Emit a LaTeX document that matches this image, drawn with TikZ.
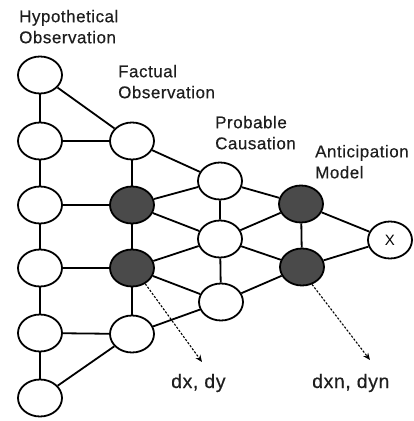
\documentclass[tikz,border=0pt]{standalone}
\usepackage{fontspec}
\setmainfont{Liberation Sans}
\newfontfamily\lblfont[LetterSpace=3,FakeBold=0.4]{Liberation Sans}
\usetikzlibrary{shapes.geometric,arrows.meta}
\definecolor{darkfill}{HTML}{4A4A4A}
\definecolor{txt}{HTML}{1E1E1E}
\begin{document}
\begin{tikzpicture}[x=1pt,y=-1pt,
  nd/.style={ellipse,draw=black,line width=1.8pt,fill=white,minimum width=44pt,minimum height=37pt,inner sep=0pt},
  dk/.style={nd,fill=darkfill},
  edge/.style={line width=1.8pt,draw=black},
  dotarrow/.style={line width=1.1pt,dash pattern=on 2.2pt off 1.6pt,-{Stealth[length=7pt,width=6pt]}},
  lbl/.style={font=\lblfont\fontsize{17}{21}\selectfont,text=txt,align=left,inner sep=0pt,anchor=north west},
  blbl/.style={font=\lblfont\fontsize{19.5}{22}\selectfont,text=txt,inner sep=0pt,anchor=base west}]
\useasboundingbox (0,0) rectangle (414,421);
% column 1
\node[nd] (h1) at (40,75) {};
\node[nd] (h2) at (40,141) {};
\node[nd] (h3) at (40,205) {};
\node[nd] (h4) at (40,268) {};
\node[nd] (h5) at (40,333) {};
\node[nd] (h6) at (40,398) {};
% column 2
\node[nd] (f1) at (132,141) {};
\node[dk] (f2) at (132,205) {};
\node[dk] (f3) at (132,268) {};
\node[nd] (f4) at (132,334) {};
% column 3
\node[nd] (p1) at (220,181) {};
\node[nd] (p2) at (220,239) {};
\node[nd] (p3) at (221,302) {};
% column 4
\node[dk] (a1) at (301,204) {};
\node[dk] (a2) at (302,267) {};
% output
\node[nd,font=\fontsize{15}{15}\selectfont] (x) at (390,240) {X};
% edges
\draw[edge] (h1) -- (h2) -- (h3) -- (h4) -- (h5) -- (h6);
\draw[edge] (h1) -- (f1);
\draw[edge] (h2) -- (f1);
\draw[edge] (h3) -- (f2);
\draw[edge] (h4) -- (f3);
\draw[edge] (h5) -- (f4);
\draw[edge] (h6) -- (f4);
\draw[edge] (f1) -- (f2) -- (f3) -- (f4);
\draw[edge] (f1) -- (p1);
\draw[edge] (f2) -- (p1);
\draw[edge] (f2) -- (p2);
\draw[edge] (f3) -- (p2);
\draw[edge] (f3) -- (p3);
\draw[edge] (f4) -- (p3);
\draw[edge] (p1) -- (p2) -- (p3);
\draw[edge] (p1) -- (a1);
\draw[edge] (p2) -- (a1);
\draw[edge] (p2) -- (a2);
\draw[edge] (p3) -- (a2);
\draw[edge] (a1) -- (a2);
\draw[edge] (a1) -- (x);
\draw[edge] (a2) -- (x);
% labels
\node[lbl] (lh) at (19,9.7) {Hypothetical\\Observation};
\node[lbl] (lf) at (118,64.7) {Factual\\Observation};
\node[lbl] (lp) at (215,115.7) {Probable\\Causation};
\node[lbl] (la) at (315,144.8) {Anticipation\\Model};
\node[blbl] (d1) at (171,388) {dx, dy};
\node[blbl] (d2) at (312,388) {dxn, dyn};
\coordinate (t1) at (202,362);
\coordinate (t2) at (370,360);
\draw[dotarrow] (f3.-50) -- (t1);
\draw[dotarrow] (a2.-60) -- (t2);
\end{tikzpicture}
\end{document}
